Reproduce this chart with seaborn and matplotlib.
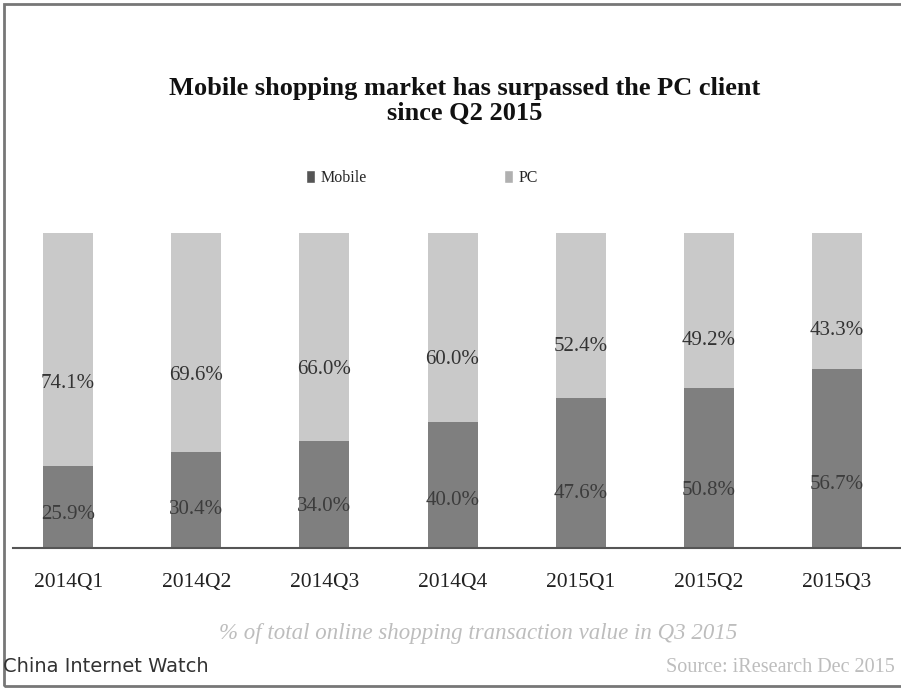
import numpy as np
import pandas as pd
import matplotlib
matplotlib.use("Agg")
import matplotlib.pyplot as plt
import seaborn as sns
from matplotlib.patches import Rectangle

quarters = ["2014Q1", "2014Q2", "2014Q3", "2014Q4", "2015Q1", "2015Q2", "2015Q3"]
mobile = [25.9, 30.4, 34.0, 40.0, 47.6, 50.8, 56.7]
pc = [74.1, 69.6, 66.0, 60.0, 52.4, 49.2, 43.3]
mobile_labels = ["25.9%", "30.4%", "34.0%", "40.0%", "47.6%", "50.8%", "56.7%"]
pc_labels = ["74.1%", "69.6%", "66.0%", "60.0%", "52.4%", "49.2%", "43.3%"]

title = "Mobile shopping market has surpassed the PC client\nsince Q2 2015"
subtitle = "% of total online shopping transaction value in Q3 2015"
brand = "China Internet Watch"
source = "Source: iResearch Dec 2015"

MOBILE_C = "#7f7f7f"
PC_C = "#c9c9c9"
SERIF = ["Liberation Serif", "DejaVu Serif"]

sns.set_theme(style="white")
plt.rcParams["font.family"] = SERIF

df = pd.DataFrame({"quarter": quarters, "mobile": mobile, "pc": pc})
df["total"] = df["mobile"] + df["pc"]

fig = plt.figure(figsize=(9.01, 6.90), dpi=100)
ax = fig.add_axes([13 / 901, 1 - 548 / 690, 1 - 13 / 901, (548 - 233) / 690])

sns.barplot(data=df, x="quarter", y="total", color=PC_C, width=0.39,
            saturation=1, ax=ax, linewidth=0)
sns.barplot(data=df, x="quarter", y="mobile", color=MOBILE_C, width=0.39,
            saturation=1, ax=ax, linewidth=0)

ax.set_ylim(0, 100)
ax.set_xlim(-0.43, 6.5)
ax.set_xlabel("")
ax.set_ylabel("")
ax.set_yticks([])
for s in ["top", "right", "left"]:
    ax.spines[s].set_visible(False)
ax.spines["bottom"].set_color("#555555")
ax.spines["bottom"].set_linewidth(1.5)
ax.tick_params(axis="x", length=0, pad=18, labelsize=15.5, colors="#222222")
for t in ax.get_xticklabels():
    t.set_family(SERIF)

for i in range(len(quarters)):
    ax.text(i, mobile[i] * 0.3 + 3, mobile_labels[i], ha="center", va="center",
            fontsize=15, color="#3c3c3c", family=SERIF)
    ax.text(i, mobile[i] * 0.54 + 38.3, pc_labels[i], ha="center", va="center",
            fontsize=15, color="#333333", family=SERIF)

fig.text(465 / 901, 1 - 101 / 690, title, ha="center", va="center", fontsize=19,
         fontweight="bold", color="#111111", family=SERIF, linespacing=1.1)

handles = [Rectangle((0, 0), 1, 1, facecolor="#555555"),
           Rectangle((0, 0), 1, 1, facecolor="#b0b0b0")]
fig.legend(handles, ["Mobile", "PC"], loc="center", bbox_to_anchor=(0.468, 1 - 178 / 690),
           ncol=2, frameon=False, handlelength=0.55, handleheight=0.9,
           handletextpad=0.35, columnspacing=8.6, prop={"family": SERIF, "size": 11.5})

fig.text(478 / 901, 1 - 634 / 690, subtitle, ha="center", va="center", fontsize=16.5,
         style="italic", color="#bdbdbd", family=SERIF)
fig.text(3 / 901, 1 - 666 / 690, brand, ha="left", va="center", fontsize=14,
         color="#333333", family=["DejaVu Sans"])
fig.text(895 / 901, 1 - 667 / 690, source, ha="right", va="center", fontsize=14.5,
         color="#bdbdbd", family=SERIF)

fig.add_artist(Rectangle((4 / 901, 4 / 690), 1.0, 1 - 8 / 690, transform=fig.transFigure,
                         fill=False, edgecolor="#777777", linewidth=2))

fig.savefig("out.png", dpi=100)
